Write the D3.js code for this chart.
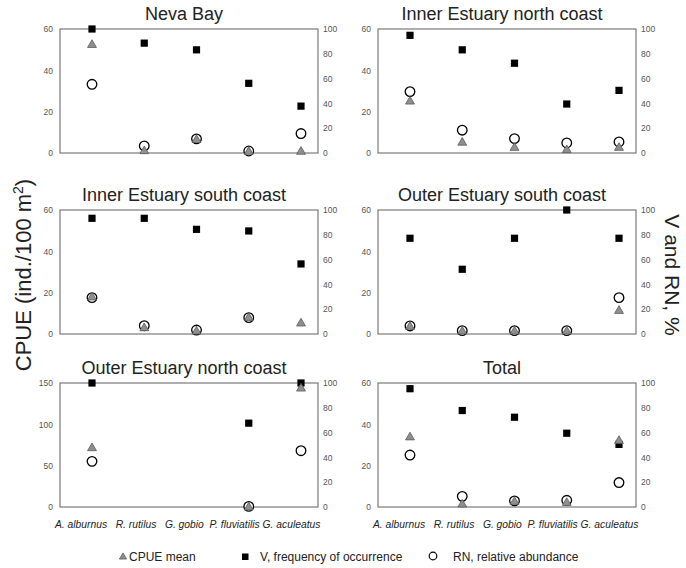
<!DOCTYPE html>
<html>
<head>
<meta charset="utf-8">
<script src="https://cdn.jsdelivr.net/npm/d3@7"></script>
<style>
  body { margin: 0; background: #fff; }
  svg { font-family: "Liberation Sans", Arial, sans-serif; }
</style>
</head>
<body>
<svg id="chart"></svg>
<script>
// species on the x axis of every panel
const species = ["A. alburnus", "R. rutilus", "G. gobio", "P. fluviatilis", "G. aculeatus"];
const panelTitles = ["Neva Bay", "Inner Estuary north coast", "Inner Estuary south coast",
    "Outer Estuary south coast", "Outer Estuary north coast", "Total"];

// CPUE mean (left axis), one row per panel
const cpueMean = [
    [52.7, 1.3, 6.7, 1.0, 1.0],
    [25.3, 5.4, 2.9, 1.8, 2.9],
    [18.1, 3.2, 1.6, 8.2, 5.5],
    [3.9, 1.6, 1.6, 1.6, 11.6],
    [72.2, null, null, 0.5, 144.3],
    [34.1, 1.6, 2.9, 2.4, 32.4]
];
// V, frequency of occurrence, % (right axis)
const freqV = [
    [100, 88.6, 83.2, 56.2, 37.8],
    [94.9, 83.2, 72.4, 39.5, 50.5],
    [93.3, 93.3, 84.4, 83.1, 56.5],
    [77.2, 52.2, 77.2, 100, 77.2],
    [100, null, null, 67.6, 100],
    [95.4, 77.8, 72.4, 59.5, 50.5]
];
// RN, relative abundance, % (right axis)
const relRN = [
    [55.4, 5.7, 11.4, 1.6, 15.7],
    [49.5, 18.4, 11.6, 8.1, 8.9],
    [29.3, 6.7, 3.2, 13.2, null],
    [6.5, 2.7, 2.7, 2.7, 29.3],
    [36.8, null, null, 0.5, 45.4],
    [41.9, 8.6, 4.9, 5.4, 19.7]
];
const leftTicks = [
    [0, 20, 40, 60], [0, 20, 40, 60], [0, 20, 40, 60],
    [0, 20, 40, 60], [0, 50, 100, 150], [0, 20, 40, 60]
];
const rightTicks = [0, 20, 40, 60, 80, 100];
const legendLabels = ["CPUE mean", "V, frequency of occurrence", "RN, relative abundance"];

const width = 686, height = 568;
const svg = d3.select("#chart").attr("width", width).attr("height", height);

const colX = [60, 378], rowY = [29, 210, 383];
const boxW = 258, boxH = 124;

const triangle = d3.symbol().type(d3.symbolTriangle).size(34);
const legTriangle = d3.symbol().type(d3.symbolTriangle).size(22);

panelTitles.forEach((title, p) => {
    const x0 = colX[p % 2], y0 = rowY[Math.floor(p / 2)];
    const g = svg.append("g");

    const x = d3.scalePoint().domain(species).range([x0 + 32, x0 + 241]);
    const yL = d3.scaleLinear().domain([0, d3.max(leftTicks[p])]).range([y0 + boxH, y0]);
    const yR = d3.scaleLinear().domain([0, 100]).range([y0 + boxH, y0]);

    // frame
    g.append("rect")
        .attr("x", x0).attr("y", y0)
        .attr("width", boxW).attr("height", boxH)
        .attr("fill", "none").attr("stroke", "#7a7a7a").attr("stroke-width", 1.2);

    // axes without tick marks
    const left = g.append("g")
        .attr("transform", `translate(${x0},0)`)
        .call(d3.axisLeft(yL).tickValues(leftTicks[p]).tickSize(0).tickPadding(7));
    const right = g.append("g")
        .attr("transform", `translate(${x0 + boxW},0)`)
        .call(d3.axisRight(yR).tickValues(rightTicks).tickSize(0).tickPadding(5));
    [left, right].forEach(a => {
        a.select(".domain").remove();
        a.selectAll("text").attr("font-size", 8.5).attr("fill", "#555")
            .attr("font-family", "Liberation Sans, Arial, sans-serif");
    });

    g.append("text")
        .attr("x", x0 + boxW / 2 - 5).attr("y", y0 - 9)
        .attr("text-anchor", "middle")
        .attr("font-size", 18).attr("fill", "#222")
        .text(title);

    // RN circles
    g.selectAll("circle.rn")
        .data(species.map((s, i) => ({ s, v: relRN[p][i] })).filter(d => d.v != null))
        .enter().append("circle")
        .attr("cx", d => x(d.s)).attr("cy", d => yR(d.v))
        .attr("r", 4.8)
        .attr("fill", "#fff").attr("stroke", "#000").attr("stroke-width", 1.3);

    // V squares
    g.selectAll("rect.v")
        .data(species.map((s, i) => ({ s, v: freqV[p][i] })).filter(d => d.v != null))
        .enter().append("rect")
        .attr("x", d => x(d.s) - 3.6).attr("y", d => yR(d.v) - 3.6)
        .attr("width", 7.2).attr("height", 7.2)
        .attr("fill", "#000");

    // CPUE triangles
    g.selectAll("path.cpue")
        .data(species.map((s, i) => ({ s, v: cpueMean[p][i] })).filter(d => d.v != null))
        .enter().append("path")
        .attr("d", triangle)
        .attr("transform", d => `translate(${x(d.s)},${yL(d.v) + 0.8})`)
        .attr("fill", "#8f8f8f").attr("stroke", "#5a5a5a").attr("stroke-width", 0.8);

    // species labels under the bottom row
    if (p >= 4) {
        g.append("text")
            .attr("x", x0 - 5).attr("y", y0 + boxH + 21)
            .attr("font-size", 10.3).attr("font-style", "italic").attr("fill", "#222")
            .style("white-space", "pre")
            .text(species.join("   ").replace("G. gobio   ", "G. gobio  ").replace("fluviatilis   ", "fluviatilis "));
    }
});

// big axis titles
svg.append("text")
    .attr("transform", "translate(31,275) rotate(-90)")
    .attr("text-anchor", "middle")
    .attr("font-size", 22).attr("fill", "#222")
    .html('CPUE (ind./100 m<tspan dy="-8" font-size="14">2</tspan><tspan dy="8">)</tspan>');

svg.append("text")
    .attr("transform", "translate(665,275) rotate(90)")
    .attr("text-anchor", "middle")
    .attr("font-size", 21).attr("fill", "#222")
    .text("V and RN, %");

// legend
const legY = 557;
const leg = svg.append("g");
leg.append("path").attr("d", legTriangle)
    .attr("transform", `translate(123,${legY})`)
    .attr("fill", "#8f8f8f").attr("stroke", "#5a5a5a").attr("stroke-width", 0.8);
leg.append("rect").attr("x", 242).attr("y", legY - 3.5).attr("width", 6.5).attr("height", 6.5).attr("fill", "#000");
leg.append("circle").attr("cx", 433).attr("cy", legY - 1).attr("r", 3.8)
    .attr("fill", "#fff").attr("stroke", "#000").attr("stroke-width", 1.2);
leg.selectAll("text.leg")
    .data(legendLabels)
    .enter().append("text")
    .attr("x", (d, i) => [129, 260, 453][i])
    .attr("y", legY + 4)
    .attr("font-size", 12).attr("fill", "#222")
    .text(d => d);
</script>
</body>
</html>
